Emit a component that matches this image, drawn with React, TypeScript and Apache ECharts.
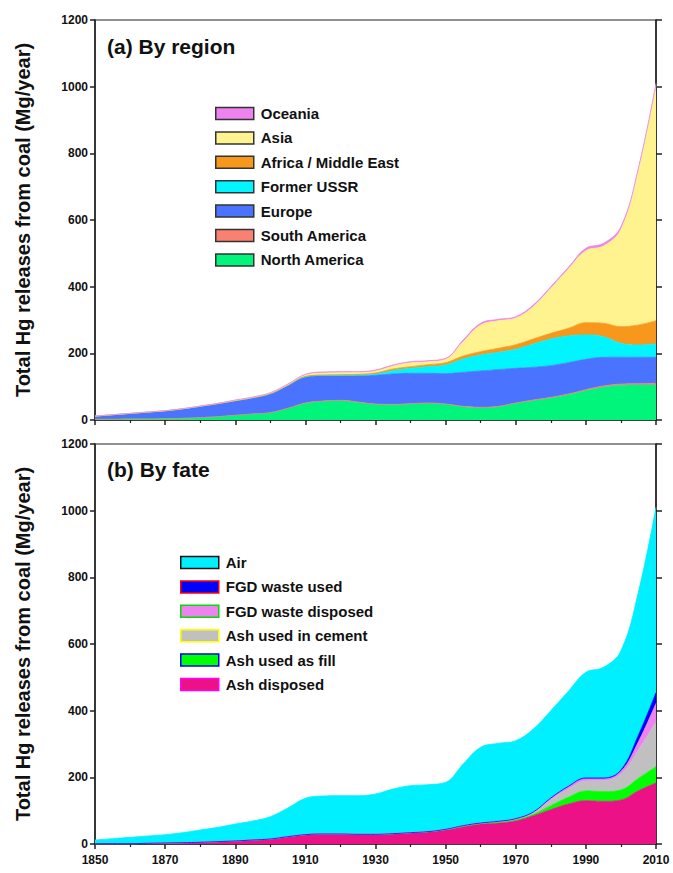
import React, { useEffect, useRef } from "react";
import * as echarts from "echarts";

const years = [1850, 1855, 1860, 1865, 1870, 1875, 1880, 1885, 1890, 1895, 1900, 1905, 1910, 1915, 1920, 1925, 1930, 1935, 1940, 1945, 1950, 1955, 1960, 1965, 1970, 1975, 1980, 1985, 1990, 1995, 2000, 2005, 2010];

// (a) By region — individual (non-cumulative) values, Mg/year
const northAmerica = [2, 2, 3, 3, 4, 5, 7, 10, 14, 18, 22, 35, 50, 56, 58, 53, 47, 46, 48, 50, 47, 40, 37, 40, 50, 58, 66, 76, 88, 98, 104, 105, 105];
const southAmerica = [0, 0, 0, 0, 0, 0, 0, 0, 0, 0, 0, 0, 1, 1, 1, 1, 1, 1, 1, 1, 1, 1, 1, 1, 1, 2, 2, 2, 3, 4, 4, 4, 5];
const europe = [9, 13, 16, 20, 23, 28, 33, 38, 43, 48, 56, 68, 77, 75, 73, 78, 86, 91, 91, 89, 91, 102, 109, 110, 104, 98, 95, 94, 91, 86, 80, 79, 78];
const formerUSSR = [0.5, 0.5, 0.5, 0.5, 0.5, 0.5, 1, 1, 1, 1, 1, 1, 2, 2, 2, 3, 4, 10, 15, 20, 26, 40, 48, 52, 57, 70, 80, 80, 73, 62, 42, 37, 40];
const africaME = [0, 0, 0, 0, 0, 0, 0, 0, 0, 0, 0, 0, 1, 1, 2, 2, 3, 5, 5, 6, 7, 9, 10, 12, 14, 15, 17, 23, 37, 40, 50, 60, 70];
const asia = [0.5, 0.5, 0.5, 0.5, 0.5, 0.5, 1, 1, 1, 1, 2, 2, 4, 6, 6, 6, 6, 9, 12, 9, 10, 43, 80, 83, 80, 97, 135, 178, 216, 232, 292, 465, 705];
const oceania = [0, 0, 0, 0, 0, 0, 0, 0, 1, 1, 1, 2, 2, 3, 3, 2, 3, 3, 3, 3, 3, 5, 5, 4, 4, 5, 5, 5, 7, 8, 8, 7, 7];

// (b) By fate — individual values, Mg/year
const ashDisposed = [1, 1, 1, 2, 3, 4, 5, 7, 9, 12, 15, 22, 28, 30, 30, 28, 28, 30, 33, 36, 42, 52, 60, 63, 70, 85, 103, 120, 130, 128, 132, 160, 183];
const ashFill = [0, 0, 0, 0, 0, 0, 0, 0, 0, 0, 0, 0, 0, 0, 0, 1, 1, 1, 1, 1, 1, 1, 1, 2, 2, 4, 12, 20, 29, 29, 30, 37, 49];
const ashCement = [0, 0, 0, 0, 0, 0, 0, 0, 0, 0, 0, 0, 0, 0, 0, 0, 0, 0, 0, 0, 1, 2, 2, 3, 4, 6, 18, 25, 30, 33, 48, 85, 135];
const fgdDisposed = [0, 0, 0, 0, 0, 0, 0, 0, 0, 0, 0, 0, 0, 0, 0, 0, 0, 0, 0, 0, 0, 0, 0, 0, 0, 1, 4, 7, 7, 6, 8, 25, 55];
const fgdUsed = [0, 0, 0, 0, 0, 0, 0, 0, 0, 0, 0, 0, 0, 0, 0, 0, 0, 0, 0, 0, 0, 0, 0, 0, 0, 0, 1, 1, 2, 2, 4, 20, 32];
const air = [11, 15, 19, 22, 25, 30, 37, 43, 51, 57, 67, 86, 109, 114, 115, 116, 121, 134, 141, 141, 141, 185, 227, 234, 234, 249, 262, 285, 317, 332, 358, 430, 556];

const yTicks = [0, 200, 400, 600, 800, 1000, 1200];
const xTicks = [1850, 1870, 1890, 1910, 1930, 1950, 1970, 1990, 2010];

const regionSeries = [
  { name: "North America", values: northAmerica, color: "#00F57A" },
  { name: "South America", values: southAmerica, color: "#FA8072" },
  { name: "Europe", values: europe, color: "#4A74FF" },
  { name: "Former USSR", values: formerUSSR, color: "#00F5FF" },
  { name: "Africa / Middle East", values: africaME, color: "#F7981D" },
  { name: "Asia", values: asia, color: "#FFF38F" },
  { name: "Oceania", values: oceania, color: "#EE82EE" },
];

const fateSeries = [
  { name: "Ash disposed", values: ashDisposed, color: "#EC1187", border: "#FF00FF" },
  { name: "Ash used as fill", values: ashFill, color: "#00FF00", border: "#0000FF" },
  { name: "Ash used in cement", values: ashCement, color: "#C0C0C0", border: "#FFFF00" },
  { name: "FGD waste disposed", values: fgdDisposed, color: "#EE82EE", border: "#00DD00" },
  { name: "FGD waste used", values: fgdUsed, color: "#0000FF", border: "#FF0000" },
  { name: "Air", values: air, color: "#00F0FF", border: "#111111" },
];

const FONT = "Arial, 'Liberation Sans', sans-serif";

export default function App() {
  const ref = useRef<HTMLDivElement>(null);

  useEffect(() => {
    if (!ref.current) return;
    const chart = echarts.init(ref.current, undefined, { renderer: "svg" });

    const grids = [
      { left: 95, right: 17, top: 20, height: 400 },
      { left: 95, right: 17, top: 444, height: 400 },
    ].map((g) => ({ ...g, show: true, borderColor: "#222", borderWidth: 1.2, backgroundColor: "transparent" }));

    // hidden category axes carry the stacked series; visible value axes draw the ticks
    const catAxes = [0, 1].map((i) => ({
      type: "category",
      gridIndex: i,
      position: "top",
      data: years.map(String),
      boundaryGap: false,
      show: false,
    }));

    const valAxes = [0, 1].map((i) => ({
      type: "value",
      gridIndex: i,
      position: "bottom",
      min: xTicks[0],
      max: xTicks[xTicks.length - 1],
      interval: 20,
      axisLine: { show: true, onZero: false, lineStyle: { color: "#222", width: 1.5 } },
      axisTick: { show: true, inside: false, length: 5, lineStyle: { color: "#222", width: 1.5 } },
      minorTick: { show: true, splitNumber: 2, length: 3, lineStyle: { color: "#222", width: 1.2 } },
      splitLine: { show: false },
      axisLabel: {
        show: i === 1,
        fontFamily: FONT,
        fontWeight: "bold",
        fontSize: 12,
        color: "#111",
        margin: 10,
        formatter: (v: number) => String(v),
      },
    }));

    const yAxes: any[] = [];
    [0, 1].forEach((i) => {
      yAxes.push({
        type: "value",
        gridIndex: i,
        position: "left",
        min: yTicks[0],
        max: yTicks[yTicks.length - 1],
        interval: 200,
        name: "Total Hg releases from coal (Mg/year)",
        nameLocation: "middle",
        nameGap: 62,
        nameTextStyle: { fontFamily: FONT, fontWeight: "bold", fontSize: 20, color: "#111" },
        axisLine: { show: true, lineStyle: { color: "#222", width: 1.5 } },
        axisTick: { show: true, inside: false, length: 5, lineStyle: { color: "#222", width: 1.5 } },
        splitLine: { show: false },
        axisLabel: {
          fontFamily: FONT,
          fontWeight: "bold",
          fontSize: 12,
          color: "#111",
          margin: 7,
          formatter: (v: number) => String(v),
        },
      });
      yAxes.push({
        type: "value",
        gridIndex: i,
        position: "right",
        min: yTicks[0],
        max: yTicks[yTicks.length - 1],
        interval: 200,
        axisLine: { show: true, lineStyle: { color: "#222", width: 1.5 } },
        axisTick: { show: true, inside: false, length: 6, lineStyle: { color: "#222", width: 1.5 } },
        splitLine: { show: false },
        axisLabel: { show: false },
      });
    });

    const mk = (s: any, gi: number, stack: string) => ({
      type: "line",
      name: s.name,
      xAxisIndex: gi,
      yAxisIndex: gi * 2,
      stack,
      smooth: 0.4,
      showSymbol: false,
      symbol: "none",
      data: s.values,
      itemStyle: { color: s.color },
      lineStyle: { width: 0.8, color: s.color },
      areaStyle: { color: s.color, opacity: 1 },
      emphasis: { disabled: true },
    });

    const series = [
      ...regionSeries.map((s) => mk(s, 0, "region")),
      ...fateSeries.map((s) => mk(s, 1, "fate")),
    ];

    const legendText = { fontFamily: FONT, fontWeight: "bold", fontSize: 15, color: "#111", lineHeight: 14, padding: [0, 0, 0, 2] };

    const option = {
      animation: false,
      title: [
        { text: "(a) By region", left: 102, top: 31, textStyle: { fontFamily: FONT, fontWeight: "bold", fontSize: 21, color: "#111" } },
        { text: "(b) By fate", left: 102, top: 454, textStyle: { fontFamily: FONT, fontWeight: "bold", fontSize: 21, color: "#111" } },
      ],
      legend: [
        {
          orient: "vertical",
          left: 210,
          top: 101,
          itemWidth: 38,
          itemHeight: 12,
          itemGap: 9.4,
          selectedMode: false,
          icon: "rect",
          textStyle: legendText,
          data: [...regionSeries].reverse().map((s) => ({
            name: s.name,
            icon: "rect",
            itemStyle: { color: s.color, borderColor: "#333", borderWidth: 1.5 },
          })),
        },
        {
          orient: "vertical",
          left: 175,
          top: 550,
          itemWidth: 38,
          itemHeight: 12,
          itemGap: 9.4,
          selectedMode: false,
          icon: "rect",
          textStyle: legendText,
          data: [...fateSeries].reverse().map((s) => ({
            name: s.name,
            icon: "rect",
            itemStyle: { color: s.color, borderColor: s.border, borderWidth: 1.5 },
          })),
        },
      ],
      grid: grids,
      xAxis: [...catAxes, ...valAxes],
      yAxis: yAxes,
      series,
    };

    chart.setOption(option as any);
    return () => chart.dispose();
  }, []);

  return (
    <div
      ref={ref}
      style={{ position: "absolute", left: 0, top: 0, width: 673, height: 873, background: "#fff" }}
    />
  );
}
